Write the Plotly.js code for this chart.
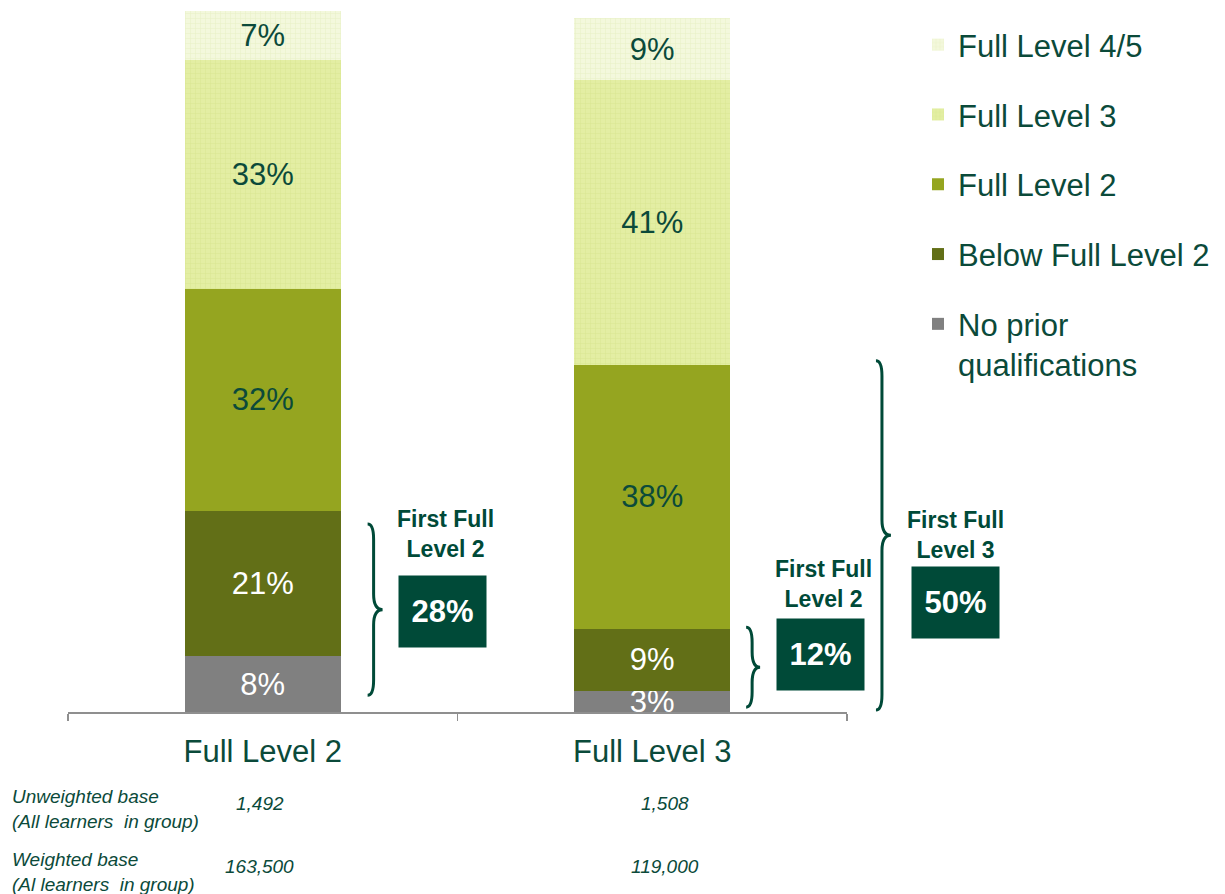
<!DOCTYPE html>
<html><head><meta charset="utf-8">
<script src="https://cdn.plot.ly/plotly-3.0.1.min.js"></script>
<style>html,body{margin:0;padding:0;background:#fff}</style>
</head><body>
<div id="chart" style="width:1225px;height:894px"></div>
<script>
// ---- data ----
const categories = ['Full Level 2', 'Full Level 3'];
const seriesNames = ['No prior<br>qualifications', 'Below Full Level 2', 'Full Level 2', 'Full Level 3', 'Full Level 4/5'];
const noPrior = [8, 3];
const belowFL2 = [21, 9];
const fullL2 = [32, 38];
const fullL3 = [33, 41];
const fullL45 = [7, 9];
const firstLabels = ['First Full<br>Level 2', 'First Full<br>Level 2', 'First Full<br>Level 3'];
const firstValues = [28, 12, 50];
const unweightedBase = ['1,492', '1,508'];
const weightedBase = ['163,500', '119,000'];

// ---- style ----
const W = 1225, H = 894, ML = 68, MR = 377, MT = 11, MB = 182;
const PW = W - ML - MR, PH = H - MT - MB;
const DARK = '#004a38';
const TXT = '#0b4a3a';
const FONT = 'Liberation Sans, Arial, sans-serif';
const px2x = p => (p - ML) / PW;
const py2y = p => (H - MB - p) / PH;

const colors = ['#808080', '#626f17', '#95a520', '#e2eda0', '#f3f8dc'];
const txtColors = ['#ffffff', '#ffffff', TXT, TXT, TXT];
const patterns = [null, null, null,
  {shape: '+', bgcolor: '#e3eea3', fgcolor: '#d8e692', size: 5, solidity: 0.2, fillmode: 'replace'},
  {shape: '+', bgcolor: '#f3f8dc', fgcolor: '#e8f0c6', size: 5, solidity: 0.2, fillmode: 'replace'}];
const allSeries = [noPrior, belowFL2, fullL2, fullL3, fullL45];

const traces = allSeries.map((vals, i) => {
  const m = {color: colors[i], line: {width: 0}};
  if (patterns[i]) m.pattern = patterns[i];
  return {
    type: 'bar', x: categories, y: vals, name: seriesNames[i],
    legendgroup: 'g' + i, legendrank: 10 - i,
    marker: m,
    text: vals.map(v => v + '%'),
    textposition: 'inside', insidetextanchor: 'middle', textangle: 0,
    constraintext: 'none', cliponaxis: false,
    insidetextfont: {family: FONT, size: 31, color: txtColors[i]},
    hoverinfo: 'skip'
  };
});

// braces
function brace(xEnd, xLine, xTip, yTop, yBot) {
  const a = px2x(xEnd), b = px2x(xLine), c = px2x(xTip);
  const yMid = (yTop + yBot) / 2;
  const r = 2.2; // data units for curvature
  return 'M' + a + ',' + yTop +
    ' Q' + b + ',' + yTop + ' ' + b + ',' + (yTop - r) +
    ' L' + b + ',' + (yMid + r) +
    ' Q' + b + ',' + yMid + ' ' + c + ',' + yMid +
    ' Q' + b + ',' + yMid + ' ' + b + ',' + (yMid - r) +
    ' L' + b + ',' + (yBot + r) +
    ' Q' + b + ',' + yBot + ' ' + a + ',' + yBot;
}
const g1 = noPrior[0] + belowFL2[0];
const g2 = noPrior[1] + belowFL2[1];
const g3 = g2 + fullL2[1];
const shapes = [
  {type: 'path', xref: 'paper', yref: 'y', path: brace(368, 374, 383, g1 - 1.9, 2.4), line: {color: DARK, width: 3}},
  {type: 'path', xref: 'paper', yref: 'y', path: brace(747, 753, 761, g2 + 0.2, 0.7), line: {color: DARK, width: 3}},
  {type: 'path', xref: 'paper', yref: 'y', path: brace(877, 883, 892, g3 + 0.6, 0.3), line: {color: DARK, width: 3}}
];

const labelPos = [[446, 534], [824, 584], [957, 535]];
const boxPos = [[443, 611], [821, 654], [957, 602]];
const annotations = [];
firstLabels.forEach((t, i) => {
  annotations.push({xref: 'paper', yref: 'paper', x: px2x(labelPos[i][0]), y: py2y(labelPos[i][1]),
    text: '<b>' + t + '</b>', showarrow: false, xanchor: 'center', yanchor: 'middle',
    font: {family: FONT, size: 23, color: DARK}});
  annotations.push({xref: 'paper', yref: 'paper', x: px2x(boxPos[i][0]), y: py2y(boxPos[i][1]),
    text: '<b>' + firstValues[i] + '%</b>', showarrow: false, xanchor: 'center', yanchor: 'middle',
    width: 87, height: 71, bgcolor: DARK, borderpad: 0,
    font: {family: FONT, size: 31, color: '#ffffff'}});
});
const smallFont = {family: FONT, size: 19, color: TXT};
annotations.push({xref: 'paper', yref: 'paper', x: px2x(10), y: py2y(809), xanchor: 'left', yanchor: 'middle', align: 'left',
  showarrow: false, text: '<i>Unweighted base<br>(All learners  in group)</i>', font: smallFont});
annotations.push({xref: 'paper', yref: 'paper', x: px2x(10), y: py2y(872), xanchor: 'left', yanchor: 'middle', align: 'left',
  showarrow: false, text: '<i>Weighted base<br>(Al learners  in group)</i>', font: smallFont});
const numX = [260, 666];
categories.forEach((c, i) => {
  annotations.push({xref: 'paper', yref: 'paper', x: px2x(numX[i]), y: py2y(803), xanchor: 'center', yanchor: 'middle',
    showarrow: false, text: '<i>' + unweightedBase[i] + '</i>', font: smallFont});
  annotations.push({xref: 'paper', yref: 'paper', x: px2x(numX[i]), y: py2y(866), xanchor: 'center', yanchor: 'middle',
    showarrow: false, text: '<i>' + weightedBase[i] + '</i>', font: smallFont});
});

const layout = {
  width: W, height: H,
  margin: {l: ML, r: MR, t: MT, b: MB, pad: 0},
  paper_bgcolor: '#ffffff', plot_bgcolor: '#ffffff',
  barmode: 'stack', bargap: 0.6,
  showlegend: true,
  legend: {x: px2x(918), y: py2y(18), xanchor: 'left', yanchor: 'top',
    traceorder: 'grouped', tracegroupgap: 26.5, valign: 'top',
    font: {family: FONT, size: 31, color: TXT}, bgcolor: 'rgba(0,0,0,0)'},
  xaxis: {type: 'category', range: [-0.5, 1.5], showline: true, linecolor: '#8f8f8f', linewidth: 1.5,
    ticks: 'outside', tickson: 'boundaries', ticklen: 7, tickcolor: '#8f8f8f', tickwidth: 1.5,
    ticklabelstandoff: 11,
    showgrid: false, zeroline: false, fixedrange: true,
    tickfont: {family: FONT, size: 31, color: TXT}},
  yaxis: {range: [0, 101], visible: false, showgrid: false, zeroline: false, fixedrange: true},
  shapes: shapes,
  annotations: annotations,
  font: {family: FONT, color: TXT}
};

Plotly.newPlot('chart', traces, layout, {displayModeBar: false, staticPlot: true});
</script>
</body></html>
